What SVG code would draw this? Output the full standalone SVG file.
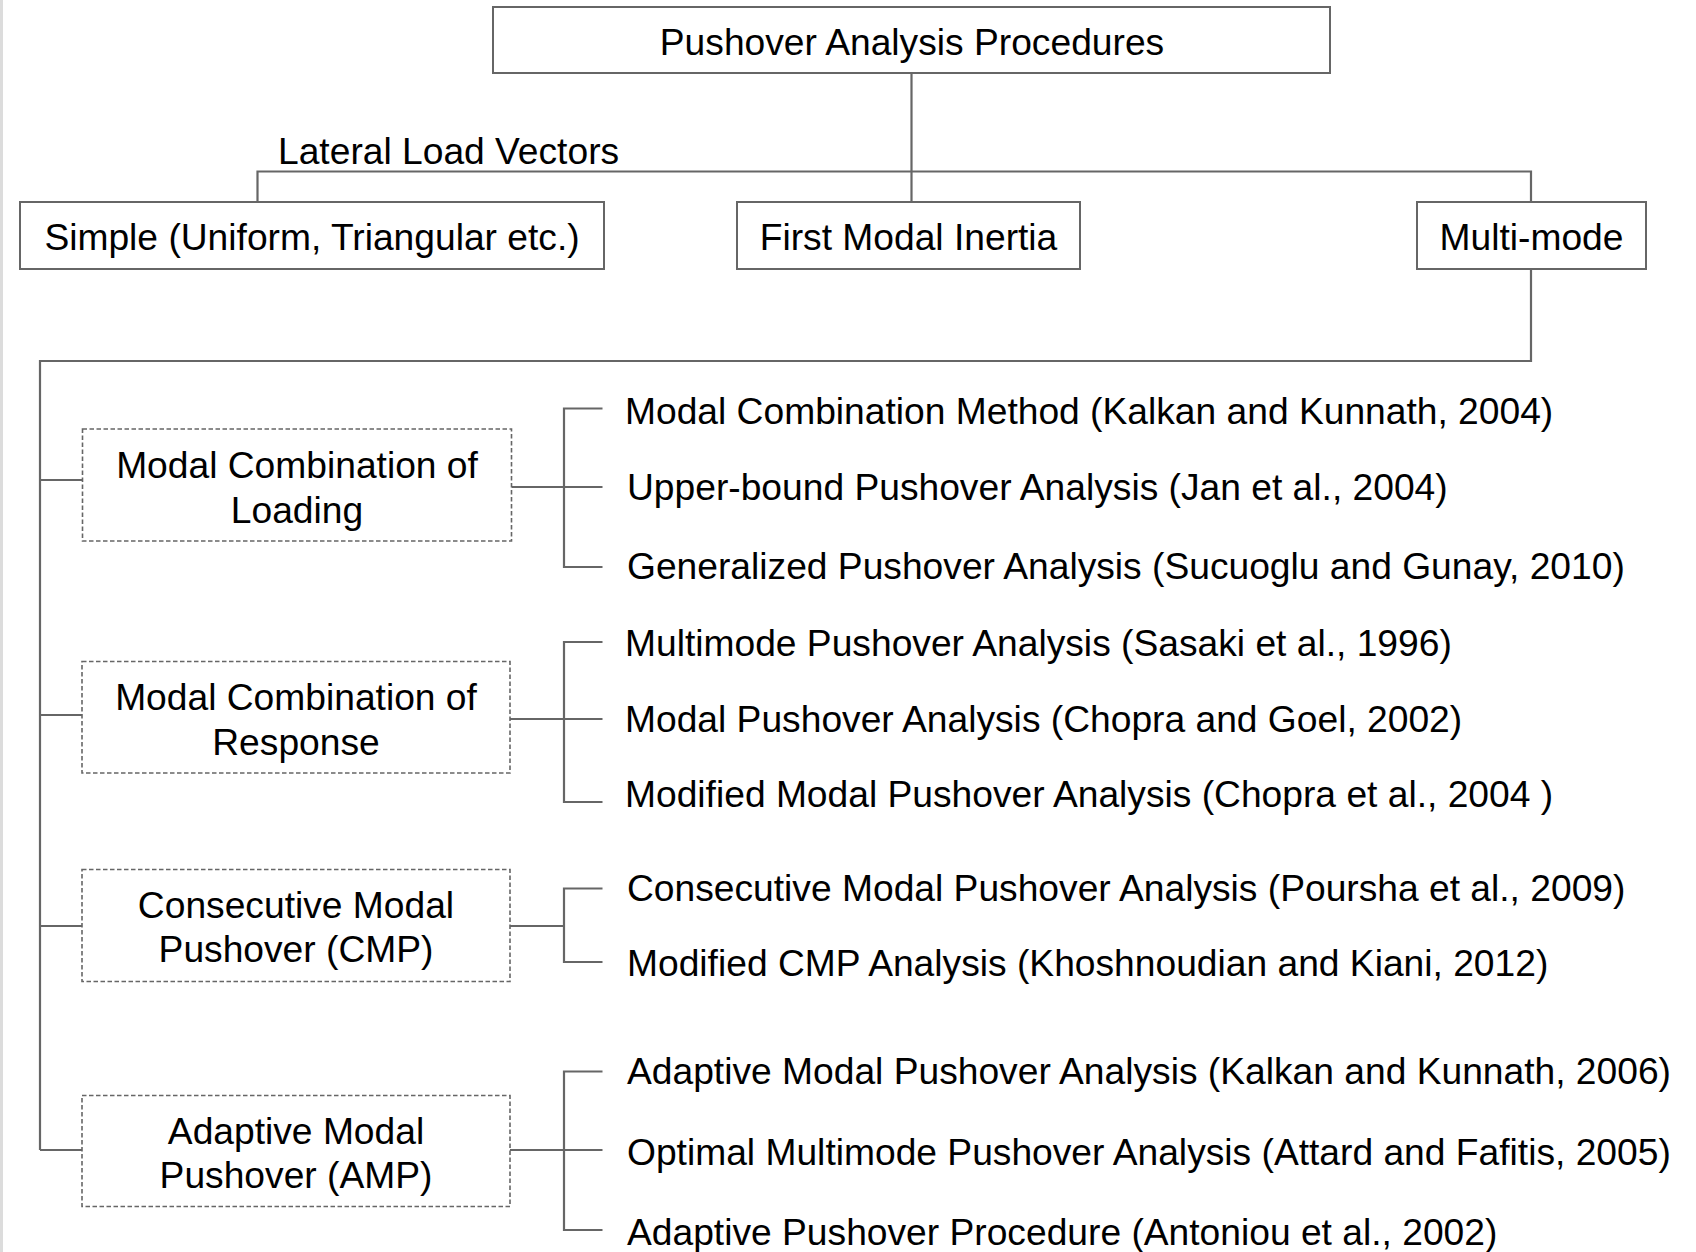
<svg xmlns="http://www.w3.org/2000/svg" width="1696" height="1252" viewBox="0 0 1696 1252">
  <style>
    text { font-family: "Liberation Sans", Arial, sans-serif; font-size: 37.2px; fill: #000; }
    .c { text-anchor: middle; }
    .box { fill: #fff; stroke: #666; stroke-width: 2; }
    .dbox { fill: #fff; stroke: #666; stroke-width: 1.6; stroke-dasharray: 4.5 2.5; }
    .wire { fill: none; stroke: #666; stroke-width: 2.2; }
  </style>
  <rect x="0" y="0" width="1696" height="1252" fill="#fff"/>
  <rect x="0" y="0" width="3" height="1252" fill="#dcdcdc"/>

  <!-- connectors -->
  <g id="connectors" class="wire">
    <path class="wire" d="M911.5 73 V202"/>
    <path class="wire" d="M257.5 202 V171.5 H1531 V202"/>
    <path class="wire" d="M1531 269 V361 H40 V1150"/>
    <path class="wire" d="M40 480 H82.5"/>
    <path class="wire" d="M40 715 H82"/>
    <path class="wire" d="M40 926 H82"/>
    <path class="wire" d="M40 1150 H82"/>
    <path class="wire" d="M511.5 487 H602.5 M602.5 408.5 H564 V567 H602.5"/>
    <path class="wire" d="M510 719 H602.5 M602.5 642 H564 V802 H602.5"/>
    <path class="wire" d="M510 926 H564 M602.5 888.5 H564 V962 H602.5"/>
    <path class="wire" d="M510 1150 H602.5 M602.5 1071.5 H564 V1230 H602.5"/>
  </g>

  <g id="root">
    <rect class="box" x="493" y="7" width="837" height="66"/>
    <text class="c" x="912" y="55">Pushover Analysis Procedures</text>
  </g>
  <g id="lateral-label">
    <text x="278" y="164">Lateral Load Vectors</text>
  </g>
  <g id="simple">
    <rect class="box" x="20" y="202" width="584" height="67"/>
    <text class="c" x="312" y="249.5">Simple (Uniform, Triangular etc.)</text>
  </g>
  <g id="first-modal">
    <rect class="box" x="737" y="202" width="343" height="67"/>
    <text class="c" x="908.5" y="249.5">First Modal Inertia</text>
  </g>
  <g id="multi-mode">
    <rect class="box" x="1417" y="202" width="229" height="67"/>
    <text class="c" x="1531.5" y="249.5">Multi-mode</text>
  </g>

  <g id="loading">
    <rect class="dbox" x="82.5" y="429" width="429" height="112"/>
    <text class="c" x="297" y="478">Modal Combination of</text>
    <text class="c" x="297" y="523">Loading</text>
  </g>
  <g id="loading-items">
    <text x="625" y="424">Modal Combination Method (Kalkan and Kunnath, 2004)</text>
    <text x="627" y="500">Upper-bound Pushover Analysis (Jan et al., 2004)</text>
    <text x="627" y="579">Generalized Pushover Analysis (Sucuoglu and Gunay, 2010)</text>
  </g>

  <g id="response">
    <rect class="dbox" x="82" y="661.5" width="428" height="111.5"/>
    <text class="c" x="296" y="710">Modal Combination of</text>
    <text class="c" x="296" y="755">Response</text>
  </g>
  <g id="response-items">
    <text x="625" y="656">Multimode Pushover Analysis (Sasaki et al., 1996)</text>
    <text x="625" y="732">Modal Pushover Analysis (Chopra and Goel, 2002)</text>
    <text x="625" y="807">Modified Modal Pushover Analysis (Chopra et al., 2004 )</text>
  </g>

  <g id="cmp">
    <rect class="dbox" x="82" y="869.5" width="428" height="112"/>
    <text class="c" x="296" y="918">Consecutive Modal</text>
    <text class="c" x="296" y="962">Pushover (CMP)</text>
  </g>
  <g id="cmp-items">
    <text x="627" y="901">Consecutive Modal Pushover Analysis (Poursha et al., 2009)</text>
    <text x="627" y="976">Modified CMP Analysis (Khoshnoudian and Kiani, 2012)</text>
  </g>

  <g id="amp">
    <rect class="dbox" x="82" y="1095.5" width="428" height="111"/>
    <text class="c" x="296" y="1144">Adaptive Modal</text>
    <text class="c" x="296" y="1188">Pushover (AMP)</text>
  </g>
  <g id="amp-items">
    <text x="627" y="1084">Adaptive Modal Pushover Analysis (Kalkan and Kunnath, 2006)</text>
    <text x="627" y="1165">Optimal Multimode Pushover Analysis (Attard and Fafitis, 2005)</text>
    <text x="627" y="1245">Adaptive Pushover Procedure (Antoniou et al., 2002)</text>
  </g>
</svg>
